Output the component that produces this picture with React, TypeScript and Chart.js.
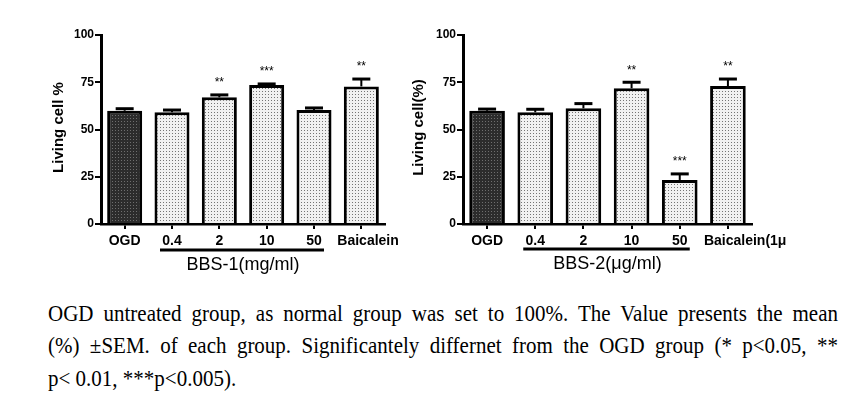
import React, { useEffect, useRef } from "react";
import { Chart, registerables } from "chart.js";

Chart.register(...registerables);

// ---------- data ----------
const categories1 = ["OGD", "0.4", "2", "10", "50", "Baicalein"];
const means1 = [59.9, 59.1, 67.0, 73.5, 60.3, 72.8];
const sem1 = [1.1, 1.2, 1.3, 0.6, 1.1, 3.9];
const sig1 = ["", "", "**", "***", "", "**"];
const groupLabel1 = "BBS-1(mg/ml)";
const yTitle1 = "Living cell %";

const categories2 = ["OGD", "0.4", "2", "10", "50", "Baicalein(1μM)"];
const means2 = [59.9, 59.1, 61.2, 71.8, 23.3, 73.0];
const sem2 = [0.9, 1.6, 2.5, 3.2, 3.2, 3.7];
const sig2 = ["", "", "", "**", "***", "**"];
const groupLabel2 = "BBS-2(μg/ml)";
const yTitle2 = "Living cell(%)";

const yTicks = [0, 25, 50, 75, 100];

const captionLines = [
  "OGD untreated group, as normal group was set to 100%. The Value presents the mean",
  "(%) ±SEM. of each group. Significantely differnet from the OGD group (* p<0.05, **",
  "p< 0.01, ***p<0.005).",
];

function makePattern(bg: string, dot: string): CanvasPattern | string {
  const c = document.createElement("canvas");
  c.width = 3;
  c.height = 3;
  const g = c.getContext("2d");
  if (!g) return bg;
  g.fillStyle = bg;
  g.fillRect(0, 0, 3, 3);
  g.fillStyle = dot;
  g.fillRect(1, 1, 1, 1);
  const p = g.createPattern(c, "repeat");
  return p || bg;
}

type PanelProps = {
  categories: string[];
  means: number[];
  sems: number[];
  sig: string[];
  groupLabel: string;
  yTitle: string;
  left: number;
  width: number;
  axisLeft: number;
  padRight: number;
  titleX: number;
  groupY: number;
};

function Panel(props: PanelProps) {
  const ref = useRef<HTMLCanvasElement | null>(null);
  useEffect(() => {
    const canvas = ref.current;
    if (!canvas) return;
    const light = makePattern("#f1f1f1", "#747474");
    const dark = makePattern("#2c2c2c", "#6e6e6e");
    const bg = props.categories.map((_, i) => (i === 0 ? dark : light));

    const overlay = {
      id: "overlay",
      afterDatasetsDraw(chart: any) {
        const ctx = chart.ctx as CanvasRenderingContext2D;
        const ys = chart.scales.y;
        const xs = chart.scales.x;
        const area = chart.chartArea;
        ctx.save();
        ctx.strokeStyle = "#000";
        ctx.fillStyle = "#000";
        props.means.forEach((m, i) => {
          const x = xs.getPixelForValue(i);
          const yTop = ys.getPixelForValue(m);
          const yErr = ys.getPixelForValue(m + props.sems[i]);
          ctx.lineWidth = 2;
          ctx.beginPath();
          ctx.moveTo(x, yTop);
          ctx.lineTo(x, yErr);
          ctx.stroke();
          ctx.lineWidth = 3;
          ctx.beginPath();
          ctx.moveTo(x - 9, yErr);
          ctx.lineTo(x + 9, yErr);
          ctx.stroke();
          if (props.sig[i]) {
            ctx.font = "12px Arial, 'Liberation Sans', sans-serif";
            ctx.textAlign = "center";
            ctx.textBaseline = "middle";
            ctx.fillText(props.sig[i], x, yErr - 12);
          }
        });
        ctx.font = "bold 14px Arial, 'Liberation Sans', sans-serif";
        ctx.textBaseline = "middle";
        const n = props.categories.length;
        props.categories.forEach((c, i) => {
          const x = xs.getPixelForValue(i);
          if (i === n - 1) {
            ctx.textAlign = "left";
            ctx.fillText(c, x - 24, area.bottom + 17);
          } else {
            ctx.textAlign = "center";
            ctx.fillText(c, x, area.bottom + 17);
          }
        });
        const x1 = xs.getPixelForValue(1);
        const x4 = xs.getPixelForValue(4);
        ctx.lineWidth = 3;
        ctx.beginPath();
        ctx.moveTo(x1 - 12, props.groupY);
        ctx.lineTo(x4 + 10, props.groupY);
        ctx.stroke();
        ctx.font = "18px Arial, 'Liberation Sans', sans-serif";
        ctx.textAlign = "center";
        ctx.fillText(props.groupLabel, (x1 + x4) / 2, props.groupY + 15);
        ctx.save();
        ctx.translate(props.titleX, (area.top + area.bottom) / 2 - 2);
        ctx.rotate(-Math.PI / 2);
        ctx.font = "bold 15px Arial, 'Liberation Sans', sans-serif";
        ctx.textAlign = "center";
        ctx.textBaseline = "middle";
        ctx.fillText(props.yTitle, 0, 0);
        ctx.restore();
        ctx.restore();
      },
    };

    const chart = new Chart(canvas, {
      type: "bar",
      data: {
        labels: props.categories,
        datasets: [
          {
            data: props.means,
            backgroundColor: bg as any,
            borderColor: "#000",
            borderWidth: 3,
            borderSkipped: "start",
            barPercentage: 0.74,
            categoryPercentage: 1,
          },
        ],
      },
      options: {
        responsive: false,
        maintainAspectRatio: false,
        animation: false,
        layout: { padding: { left: 0, top: 35, right: props.padRight, bottom: 56 } },
        plugins: { legend: { display: false }, tooltip: { enabled: false }, title: { display: false } },
        scales: {
          x: {
            type: "category",
            offset: true,
            grid: {
              display: true,
              drawOnChartArea: false,
              drawTicks: true,
              offset: false,
              tickLength: 5,
              lineWidth: 2,
              color: "#000",
            },
            border: { display: true, color: "#000", width: 2.5 },
            ticks: { display: false },
            afterFit: (s: any) => {
              s.height = 10;
            },
          },
          y: {
            min: 0,
            max: 100,
            afterBuildTicks: (s: any) => {
              s.ticks = yTicks.map((v) => ({ value: v }));
            },
            grid: {
              display: true,
              drawOnChartArea: false,
              drawTicks: true,
              tickLength: 6,
              lineWidth: 2,
              color: "#000",
            },
            border: { display: true, color: "#000", width: 3 },
            ticks: {
              color: "#000",
              padding: 1,
              font: { family: "Arial, 'Liberation Sans', sans-serif", size: 12, weight: "bold" },
            },
            afterFit: (s: any) => {
              s.width = props.axisLeft;
            },
          },
        },
      },
      plugins: [overlay],
    } as any);
    return () => chart.destroy();
  }, []);
  return (
    <canvas
      ref={ref}
      width={props.width}
      height={290}
      style={{ position: "absolute", left: props.left, top: 0, width: props.width, height: 290 }}
    />
  );
}

export default function App() {
  return (
    <div style={{ position: "absolute", left: 0, top: 0, width: 859, height: 420, background: "#fff", overflow: "hidden" }}>
      <Panel
        categories={categories1}
        means={means1}
        sems={sem1}
        sig={sig1}
        groupLabel={groupLabel1}
        yTitle={yTitle1}
        left={0}
        width={420}
        axisLeft={101}
        padRight={35}
        titleX={59}
        groupY={250}
      />
      <Panel
        categories={categories2}
        means={means2}
        sems={sem2}
        sig={sig2}
        groupLabel={groupLabel2}
        yTitle={yTitle2}
        left={400}
        width={386}
        axisLeft={63}
        padRight={34}
        titleX={19}
        groupY={249}
      />
      <div
        style={{
          position: "absolute",
          left: 48,
          top: 297,
          width: 790,
          fontFamily: "'Liberation Serif', 'Times New Roman', serif",
          fontSize: 21,
          lineHeight: "30px",
          color: "#000",
          transform: "scaleY(1.08)",
          transformOrigin: "0 0",
        }}
      >
        {captionLines.map((t, i) => (
          <div
            key={i}
            style={{
              textAlign: i < captionLines.length - 1 ? "justify" : "left",
              textAlignLast: i < captionLines.length - 1 ? "justify" : "left",
              whiteSpace: "nowrap",
            } as any}
          >
            {t}
          </div>
        ))}
      </div>
    </div>
  );
}
